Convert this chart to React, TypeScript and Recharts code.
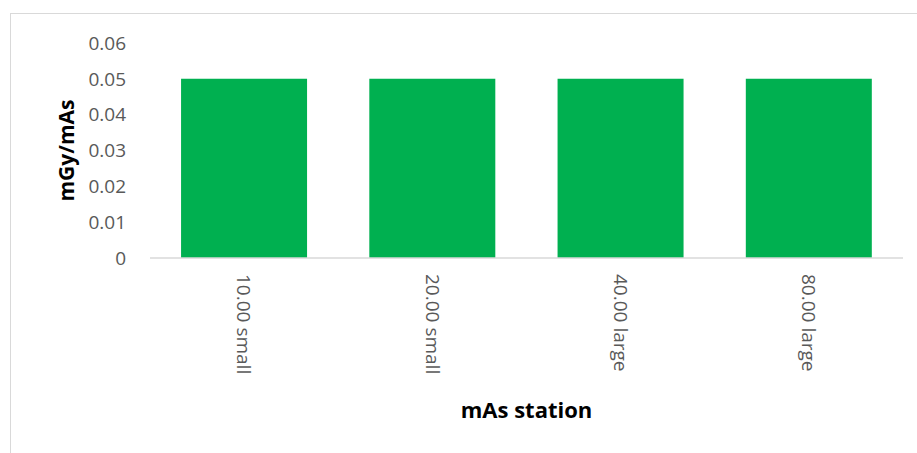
import { BarChart, Bar, XAxis, YAxis } from 'recharts';

const stations = ['10.00 small', '20.00 small', '40.00 large', '80.00 large'];
const doseRate = [0.05, 0.05, 0.05, 0.05];
const yTicks = [0, 0.01, 0.02, 0.03, 0.04, 0.05, 0.06];

const data = stations.map((s, i) => ({ station: s, value: doseRate[i] }));

const FONT = '"Open Sans", Calibri, sans-serif';

function StationTick({ x, y, payload }: any) {
  return (
    <text
      x={0}
      y={0}
      transform={`translate(${x},${y + 8}) rotate(90)`}
      textAnchor="start"
      dy="0.35em"
      fill="#595959"
      fontSize={19}
      fontFamily={FONT}
    >
      {payload.value}
    </text>
  );
}

function YTitle({ viewBox }: any) {
  const cx = 67;
  const cy = viewBox.y + viewBox.height / 2;
  return (
    <text
      x={cx}
      y={cy}
      transform={`rotate(-90, ${cx}, ${cy})`}
      textAnchor="middle"
      dy="0.35em"
      fill="#000"
      fontSize={21}
      fontWeight="bold"
      fontFamily={FONT}
    >
      mGy/mAs
    </text>
  );
}

export default function App() {
  return (
    <div style={{ position: 'absolute', left: 0, top: 0, width: 917, height: 453, background: '#fff', overflow: 'hidden' }}>
      <div
        style={{
          position: 'absolute',
          left: 10,
          top: 13,
          width: 920,
          height: 460,
          border: '1px solid #d9d9d9',
          boxSizing: 'border-box',
        }}
      />
      <BarChart
        width={917}
        height={453}
        data={data}
        margin={{ top: 43, right: 14, left: 0, bottom: 0 }}
        barCategoryGap="16.5%"
        style={{ position: 'absolute', left: 0, top: 0 }}
      >
        <XAxis
          dataKey="station"
          height={195}
          stroke="#d9d9d9"
          strokeWidth={1.5}
          tickLine={false}
          interval={0}
          tick={<StationTick />}
          label={{
            value: 'mAs station',
            position: 'insideBottom',
            offset: 35,
            fill: '#000',
            fontSize: 22,
            fontWeight: 'bold',
            fontFamily: FONT,
          }}
        />
        <YAxis
          width={150}
          domain={[0, 0.06]}
          ticks={yTicks}
          axisLine={false}
          tickLine={false}
          tickSize={0}
          tickMargin={24}
          tick={{ fill: '#595959', fontSize: 19, fontFamily: FONT }}
          tickFormatter={(v: number) => (v === 0 ? '0' : v.toFixed(2))}
          label={<YTitle />}
        />
        <Bar dataKey="value" fill="#00b050" isAnimationActive={false} />
      </BarChart>
    </div>
  );
}
